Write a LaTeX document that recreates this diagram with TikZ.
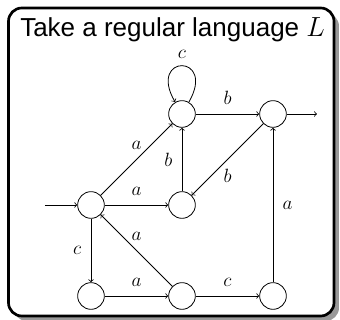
\documentclass[tikz,border=0pt]{standalone}
\usepackage{fontspec}
\setsansfont{Liberation Sans}
\usetikzlibrary{positioning}

\begin{document}
\begin{tikzpicture}[
    x=0.75pt, y=0.75pt,
    node distance=68.25pt, on grid,
    st/.style={circle, draw, line width=0.6pt, minimum size=20pt, inner sep=0pt},
    trans/.style={->, line width=0.6pt},
    lbl/.style={font=\Large, inner sep=7pt},
    panel/.style={draw=black, line width=2pt, rounded corners=10pt, fill=white},
    panelshadow/.style={fill=black!40, rounded corners=10pt}
  ]
  \useasboundingbox (-91,205) rectangle (249,-115);

  % Panel with shadow
  \coordinate (nw) at (-82.5,197);
  \coordinate (se) at (243,-111);
  \fill[panelshadow] ([shift={(5,-5)}]nw) rectangle ([shift={(5,-5)}]se);
  \draw[panel] (nw) rectangle (se);
  \node[anchor=base west, inner sep=0pt,
        font=\sffamily\fontsize{19.5}{23}\selectfont] (title) at (-71,168)
       {Take a regular language $L$};

  % States
  \node[st] (q0) at (0,0) {};
  \node[st, right=of q0] (q3) {};
  \node[st, above=of q3] (q1) {};
  \node[st, right=of q1] (q2) {};
  \node[st, below=of q0] (q4) {};
  \node[st, right=of q4] (q5) {};
  \node[st, right=of q5] (q6) {};

  \coordinate[left=34.5pt of q0] (start);
  \coordinate[right=33pt of q2] (accept);

  % Transitions
  \draw[trans] (start) -- (q0);
  \draw[trans] (q2) -- (accept);
  \draw[trans] (q0) -- node[lbl, above] {$a$} (q1);
  \draw[trans] (q0) -- node[lbl, above] {$a$} (q3);
  \draw[trans] (q0) -- node[lbl, left] {$c$} (q4);
  \draw[trans] (q1) to[out=60, in=120, distance=42pt]
       node[lbl, above, inner sep=5pt] {$c$} (q1);
  \draw[trans] (q1) -- node[lbl, above] {$b$} (q2);
  \draw[trans] (q2) -- node[lbl, below] {$b$} (q3);
  \draw[trans] (q3) -- node[lbl, left] {$b$} (q1);
  \draw[trans] (q4) -- node[lbl, above] {$a$} (q5);
  \draw[trans] (q5) -- node[lbl, above] {$a$} (q0);
  \draw[trans] (q5) -- node[lbl, above] {$c$} (q6);
  \draw[trans] (q6) -- node[lbl, right] {$a$} (q2);
\end{tikzpicture}
\end{document}
